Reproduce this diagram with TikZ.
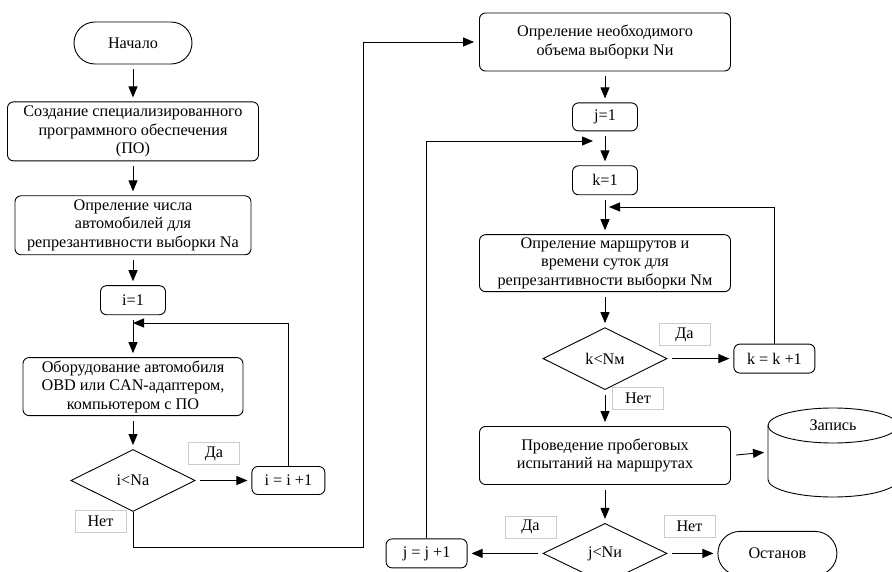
\documentclass[tikz,border=0pt]{standalone}
\usepackage{fontspec}
\setmainfont{Liberation Serif}
\usetikzlibrary{positioning, shapes.geometric, arrows.meta}

\tikzset{
  proc/.style={draw, rounded corners=6pt, align=center, inner sep=0pt},
  term/.style={draw, rounded corners=21pt, minimum width=118pt, minimum height=42pt, inner sep=0pt},
  cond/.style={draw, diamond, inner sep=0pt, minimum width=124pt, minimum height=62pt},
  lbl/.style={draw=gray!40, line width=0.6pt, minimum width=51pt, minimum height=22pt, inner sep=0pt},
  arr/.style={-{Triangle[length=11pt,width=9pt]}, shorten <=5pt, shorten >=4pt},
  back/.style={-{Triangle[length=11pt,width=9pt]}},
}

\begin{document}
\begin{tikzpicture}[x=1pt, y=-1pt, line width=0.9pt,
  font=\fontsize{16.2}{18.4}\selectfont]

\path[use as bounding box] (0,0) rectangle (892,572);
\clip (0,0) rectangle (892,572);

% left column

\node[term] (start) at (133,43) {Начало};
\node[proc, below=37pt of start, minimum width=251pt, minimum height=59pt] (sozd) {Создание специализированного\\программного обеспечения\\(ПО)};
\node[proc, below=34pt of sozd, minimum width=236pt, minimum height=59pt] (opr) {Опреление числа\\автомобилей для\\репрезантивности выборки Na};
\node[proc, below=30pt of opr, minimum width=65pt, minimum height=29pt] (i1) {i=1};
\node[proc, below=42pt of i1, minimum width=220pt, minimum height=58pt] (obor) {Оборудование автомобиля\\OBD или CAN-адаптером,\\компьютером с ПО};
\node[cond, below=33pt of obor] (dIa) {i<Na};
\node[proc, right=56pt of dIa, minimum width=73pt, minimum height=28pt] (ii) {i = i +1};

\node[lbl] (daA) at (214,453.5) {Да};
\node[lbl] (netA) at (100.5,521.5) {Нет};

% right column

\node[proc, minimum width=251pt, minimum height=58pt] (nu) at (605,42) {Опреление необходимого\\объема выборки Nи};
\node[proc, below=31pt of nu, minimum width=65pt, minimum height=28pt] (j1) {j=1};
\node[proc, below=34pt of j1, minimum width=65pt, minimum height=29pt] (k1) {k=1};
\node[proc, below=39pt of k1, minimum width=251pt, minimum height=57pt] (marsh) {Опреление маршрутов и\\времени суток для\\репрезантивности выборки Nм};
\node[cond, below=35pt of marsh] (dK) {k<Nм};
\node[proc, right=66pt of dK, minimum width=81pt, minimum height=29pt] (kk) {k = k +1};
\node[proc, below=36pt of dK, minimum width=251pt, minimum height=58pt] (prob) {Проведение пробеговых\\испытаний на маршрутах};
\node[cond, below=38pt of prob, minimum height=60pt] (dJ) {j<Nи};
\node[proc, left=75pt of dJ, minimum width=81pt, minimum height=29pt] (jj) {j = j +1};
\node[term, right=50pt of dJ, minimum width=119pt, minimum height=44pt, rounded corners=22pt] (stop) {Останов};

\node[lbl] (daK) at (684.5,334.5) {Да};
\node[lbl] (netK) at (638,398) {Нет};
\node[lbl] (daJ) at (530.5,527) {Да};
\node[lbl] (netJ) at (689.5,526) {Нет};

% storage
\draw (768,425.5) -- (768,479.5) arc[start angle=180, end angle=0, x radius=65, y radius=17.5] -- (898,425.5);
\draw (833,425.5) ellipse [x radius=65, y radius=17.5];
\node (zap) at (833,425) {Запись};
\coordinate (zapIn) at (768,452);

% loop points
\coordinate (iLoop) at (133,323);
\coordinate (kLoop) at (609,207);
\coordinate (jLoop) at (593,141);
\coordinate (turn) at (363,547);

% edges

\draw[arr] (start) -- (sozd);
\draw[arr] (sozd) -- (opr);
\draw[arr] (opr) -- (i1);
\draw[arr] (i1) -- (obor);
\draw[arr] (obor) -- (dIa);
\draw[arr] (dIa) -- (ii);
\draw[back] (ii.north) |- (iLoop);
\draw[back, shorten >=5pt] (dIa.south) |- (turn) |- (nu.west);

\draw[arr] (nu) -- (j1);
\draw[arr] (j1) -- (k1);
\draw[arr] (k1) -- (marsh);
\draw[arr] (marsh) -- (dK);
\draw[arr] (dK) -- (kk);
\draw[back] (kk.north) |- (kLoop);
\draw[arr] (dK) -- (prob);
\draw[arr] (prob.east) -- (zapIn);
\draw[arr] (prob) -- (dJ);
\draw[arr] (dJ) -- (jj);
\draw[back] (jj.north) |- (jLoop);
\draw[arr] (dJ) -- (stop);

\end{tikzpicture}
\end{document}
